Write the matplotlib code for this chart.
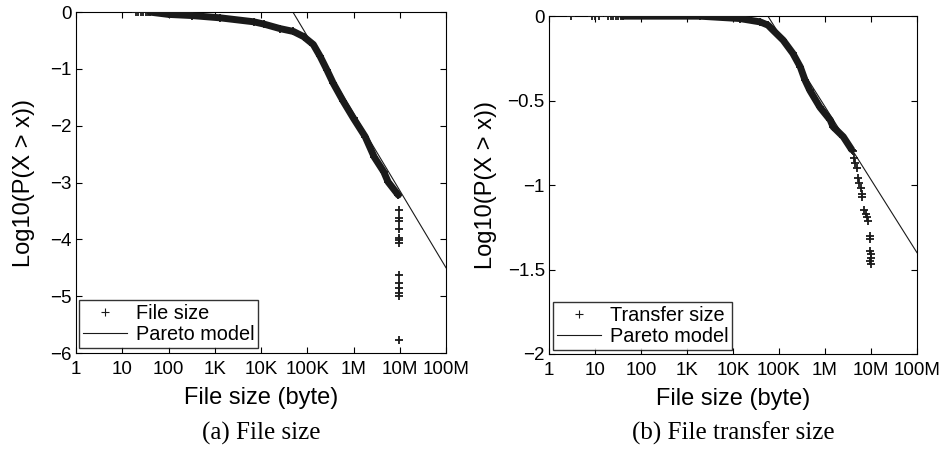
import matplotlib
matplotlib.use("Agg")
import matplotlib.pyplot as plt

# ---- data ----
# (a) file size CCDF
file_sparse_x = [20, 22, 25, 28, 32, 36]
file_sparse_y = [0, 0, 0, 0, 0, 0]
file_x = [40, 100, 316, 1290, 6900, 1.15e4, 2.57e4, 5.0e4, 8.3e4, 1.35e5,
          1.9e5, 2.63e5, 3.63e5, 6.0e5, 1.0e6, 1.78e6, 2.8e6, 4.5e6, 5.6e6,
          9.3e6]
file_y = [0.0, -0.04, -0.06, -0.10, -0.17, -0.21, -0.29, -0.34, -0.43, -0.57,
          -0.78, -1.01, -1.25, -1.57, -1.87, -2.19, -2.55, -2.81, -2.99, -3.22]
file_tail_x = [9.5e6] * 13
file_tail_y = [-3.48, -3.63, -3.68, -3.82, -3.98, -4.01, -4.07,
               -4.63, -4.76, -4.86, -4.94, -5.0, -5.77]
file_pareto_x = [4.9e4, 1e8]
file_pareto_y = [0.0, -4.5]

# (b) transfer size CCDF
xfer_sparse_x = [3, 8.5, 10, 12.5, 19, 22, 25, 28, 32, 36]
xfer_sparse_y = [0] * 10
xfer_x = [40, 1900, 1.4e4, 3.9e4, 5.75e4, 7.4e4, 1.23e5, 2.0e5, 2.9e5,
          3.7e5, 4.7e5, 7.8e5, 1.3e6, 1.5e6, 2.5e6, 3.8e6]
xfer_y = [0.0, 0.0, -0.014, -0.034, -0.053, -0.083, -0.142, -0.22, -0.30,
          -0.38, -0.44, -0.54, -0.615, -0.655, -0.714, -0.79]
xfer_tail_x = [4.0e6, 4.3e6, 4.6e6, 4.9e6, 5.3e6, 5.6e6, 6.0e6, 6.3e6, 6.5e6,
               7.2e6, 7.8e6, 8.3e6, 8.8e6, 9.5e6, 9.7e6, 9.5e6, 9.8e6, 1.0e7,
               9.7e6, 1.0e7]
xfer_tail_y = [-0.80, -0.84, -0.87, -0.90, -0.96, -0.99, -1.02, -1.05, -1.07,
               -1.15, -1.17, -1.19, -1.21, -1.30, -1.32, -1.39, -1.41, -1.43,
               -1.45, -1.47]
xfer_pareto_x = [5.75e4, 1e8]
xfer_pareto_y = [0.0, -1.40]

xticks      = [1, 10, 100, 1e3, 1e4, 1e5, 1e6, 1e7, 1e8]
xticklabels = ["1", "10", "100", "1K", "10K", "100K", "1M", "10M", "100M"]

plt.rcParams["font.family"] = ["Liberation Sans", "DejaVu Sans"]
ink = "#1a1a1a"

fig = plt.figure(figsize=(9.43, 4.49), dpi=100)
ax1 = fig.add_axes([0.0806, 0.2138, 0.3924, 0.7592])
ax2 = fig.add_axes([0.5822, 0.2116, 0.3902, 0.7524])


def draw(ax, sx, sy, cx, cy, tx, ty, px, py, label, ylim, yticks, ylabels,
         caption, ylab_x, leg_xy):
    ax.plot(px, py, color=ink, lw=0.8, zorder=2)
    ax.plot(cx, cy, color=ink, lw=5, solid_capstyle="round", zorder=3)
    ax.plot(sx + cx + tx, sy + cy + ty, ls="none", marker="+", ms=6,
            mew=1.3, color=ink, zorder=4)
    ax.set_xscale("log")
    ax.set_xlim(1, 1e8)
    ax.set_ylim(*ylim)
    ax.set_xticks(xticks)
    ax.set_xticklabels(xticklabels)
    ax.minorticks_off()
    ax.set_yticks(yticks)
    ax.set_yticklabels(ylabels)
    ax.tick_params(direction="in", top=True, right=True, labelsize=13.5,
                   length=4, width=0.8)
    ax.tick_params(axis="x", pad=6)
    ax.tick_params(axis="y", pad=3)
    for s in ax.spines.values():
        s.set_linewidth(0.8)
    ax.set_xlabel("File size (byte)", fontsize=17)
    ax.set_ylabel("Log10(P(X > x))", fontsize=17)
    ax.xaxis.set_label_coords(0.5, -0.10)
    ax.yaxis.set_label_coords(ylab_x, 0.5)

    h1, = ax.plot([], [], ls="none", marker="+", ms=6, mew=0.8, color=ink)
    h2, = ax.plot([], [], color=ink, lw=0.8)
    leg = ax.legend([h1, h2], [label, "Pareto model"], loc="lower left",
                    bbox_to_anchor=leg_xy, fontsize=14.3, frameon=True,
                    fancybox=False, borderaxespad=0, handlelength=2.2,
                    handletextpad=0.45, borderpad=0.2, labelspacing=0.12)
    leg.get_frame().set_edgecolor("black")
    leg.get_frame().set_linewidth(1.0)
    ax.text(0.5, -0.235, caption, transform=ax.transAxes, ha="center",
            va="center", fontsize=18, family="Liberation Serif")


draw(ax1, file_sparse_x, file_sparse_y, file_x, file_y, file_tail_x, file_tail_y,
     file_pareto_x, file_pareto_y, "File size", (-6, 0),
     [-6, -5, -4, -3, -2, -1, 0],
     ["\u22126", "\u22125", "\u22124", "\u22123", "\u22122", "\u22121", "0"],
     "(a) File size", -0.111, (0.008, 0.015))
draw(ax2, xfer_sparse_x, xfer_sparse_y, xfer_x, xfer_y, xfer_tail_x, xfer_tail_y,
     xfer_pareto_x, xfer_pareto_y, "Transfer size", (-2, 0),
     [-2, -1.5, -1, -0.5, 0],
     ["\u22122", "\u22121.5", "\u22121", "\u22120.5", "0"],
     "(b) File transfer size", -0.141, (0.011, 0.012))

fig.savefig("out.png", dpi=100)
